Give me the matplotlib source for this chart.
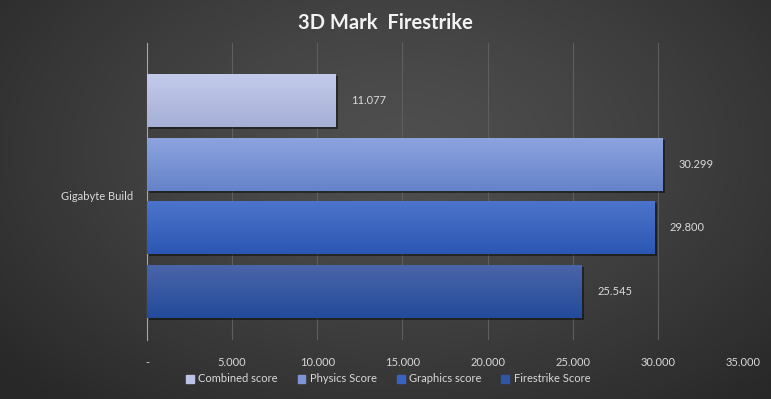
import numpy as np
import matplotlib
matplotlib.use("Agg")
import matplotlib.pyplot as plt
import matplotlib.patheffects as pe
from matplotlib.colors import to_rgb

category = "Gigabyte Build"
series = ["Combined score", "Physics Score", "Graphics score", "Firestrike Score"]
values = [11077, 30299, 29800, 25545]
value_labels = ["11.077", "30.299", "29.800", "25.545"]
xticks = [0, 5000, 10000, 15000, 20000, 25000, 30000, 35000]
xtick_labels = ["-", "5.000", "10.000", "15.000", "20.000", "25.000", "30.000", "35.000"]
title = "3D Mark  Firestrike"

# gradient colours (top, bottom) per series
grad_top = ["#c2cbea", "#8ca3de", "#4d74cc", "#4b65a9"]
grad_bot = ["#a6afd6", "#6683c9", "#2b57b2", "#224b9a"]
legend_colors = ["#bcc4e6", "#7d95d6", "#3a63c0", "#2f55a4"]

FONT = ["Lato", "DejaVu Sans"]
plt.rcParams["font.family"] = FONT

fig = plt.figure(figsize=(7.71, 3.99), dpi=100)

# radial background
bg = fig.add_axes([0, 0, 1, 1])
bg.set_axis_off()
yy, xx = np.mgrid[0:399, 0:771]
cx, cy = 400, 150
r = np.sqrt(((xx - cx) / 520.0) ** 2 + ((yy - cy) / 330.0) ** 2)
r = np.clip(r, 0, 1)
lum = 0.31 - 0.15 * r ** 1.3
img = np.dstack([lum, lum, lum])
bg.imshow(img, extent=[0, 1, 0, 1], aspect="auto", origin="upper")
bg.set_xlim(0, 1)
bg.set_ylim(0, 1)

ax = fig.add_axes([147 / 771, 1 - 340 / 399, (743 - 147) / 771, (340 - 43) / 399])
ax.set_facecolor("none")

n = len(series)
step = 63.5 / 297
height = 53 / 297
pos = [(i - (n - 1) / 2) * step for i in range(n)]

bars = ax.barh(pos, values, height=height, color=legend_colors, zorder=2,
               path_effects=[pe.SimplePatchShadow(offset=(1.5, -1.5), shadow_rgbFace="black", alpha=0.45), pe.Normal()])

for b, ct, cb in zip(bars, grad_top, grad_bot):
    x0, y0 = b.get_x(), b.get_y()
    w, h = b.get_width(), b.get_height()
    t = np.linspace(0, 1, 64)[:, None]
    c0 = np.array(to_rgb(ct)); c1 = np.array(to_rgb(cb))
    g = c0[None, None, :] * (1 - t[..., None]) + c1[None, None, :] * t[..., None]
    g = np.repeat(g, 2, axis=1)
    im = ax.imshow(g, extent=[x0, x0 + w, y0 + h, y0], aspect="auto", zorder=3, interpolation="bilinear")
    im.set_clip_path(b)

for p, v, lab in zip(pos, values, value_labels):
    ax.annotate(lab, (v, p), xytext=(11, 0), textcoords="offset points", va="center", ha="left",
                color="#d9d9d9", fontsize=8, zorder=4)

d = 4.5 / 297
ax.set_xlim(0, 35000)
ax.set_ylim(0.5 - d, -0.5 - d)
ax.set_xticks(xticks)
ax.set_xticklabels(xtick_labels)
ax.set_yticks([0])
ax.set_yticklabels([category])
ax.tick_params(axis="both", length=0, colors="#d9d9d9", labelsize=8)
ax.tick_params(axis="x", pad=12)
ax.tick_params(axis="y", pad=10)
ax.grid(axis="x", color="#5e5e5e", linewidth=0.8, zorder=0)
ax.set_axisbelow(True)
for s in ["top", "right", "bottom"]:
    ax.spines[s].set_visible(False)
ax.spines["left"].set_color("#a6a6a6")
ax.spines["left"].set_linewidth(0.8)

fig.text(0.5, 1 - 23 / 399, title, ha="center", va="center", color="#f2f2f2",
         fontsize=14.5, fontweight="bold")

handles = [plt.Rectangle((0, 0), 1, 1, color=c) for c in legend_colors]
leg = fig.legend(handles, series, loc="center", bbox_to_anchor=(388 / 771, 1 - 379 / 399), ncol=4,
                 frameon=False, fontsize=8, handlelength=0.7, handleheight=0.7, handletextpad=0.4,
                 columnspacing=1.8, labelcolor="#d9d9d9")

fig.savefig("out.png", dpi=100, facecolor="#333333")
